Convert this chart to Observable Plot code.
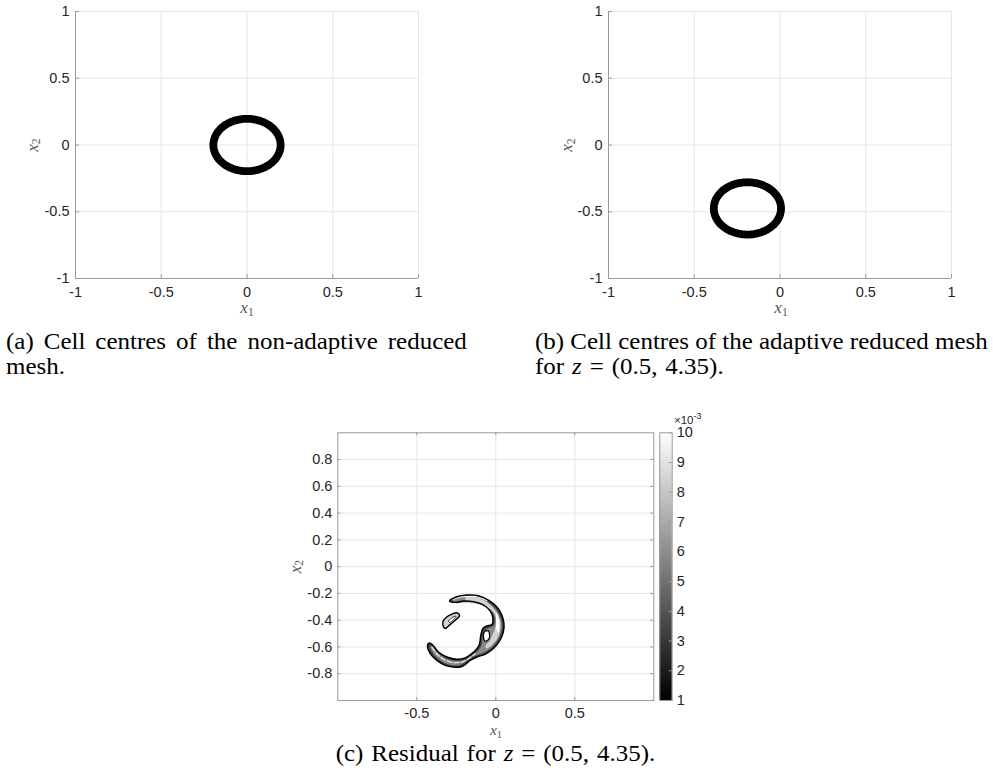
<!DOCTYPE html>
<html><head><meta charset="utf-8">
<script src="https://cdn.jsdelivr.net/npm/d3@7"></script>
<script src="https://cdn.jsdelivr.net/npm/@observablehq/plot@0.6"></script>
<style>
html,body{margin:0;padding:0;background:#fff;}
#root{position:relative;width:993px;height:776px;overflow:hidden;background:#fff;}
.panel{position:absolute;}
#overlay{position:absolute;left:0;top:0;pointer-events:none;}
</style></head><body><div id="root"></div>
<script>
// ---------------- data ----------------
const meshTicks = [-1, -0.5, 0, 0.5, 1];
const resTicksX = [-0.5, 0, 0.5];
const resTicksY = [-0.8, -0.6, -0.4, -0.2, 0, 0.2, 0.4, 0.6, 0.8];
const cbarTicks = [1, 2, 3, 4, 5, 6, 7, 8, 9, 10];

// rings of cell centres (panel a: non-adaptive, panel b: adaptive)
const ringCentreX = [0, -0.19];
const ringCentreY = [0, -0.475];
const ringRadius = [0.196, 0.196];

// residual contour outlines (x1, x2), panel c
const crescentEdge = [
  [-0.293,-0.257],[-0.247,-0.225],[-0.183,-0.212],[-0.110,-0.217],[-0.047,-0.250],[0.006,-0.300],
  [0.038,-0.362],[0.052,-0.425],[0.048,-0.487],[0.027,-0.550],[-0.015,-0.612],[-0.068,-0.655],
  [-0.120,-0.675],[-0.162,-0.700],[-0.194,-0.732],[-0.226,-0.750],[-0.268,-0.750],[-0.320,-0.737],
  [-0.373,-0.700],[-0.415,-0.650],[-0.432,-0.587],[-0.420,-0.570],
  [-0.398,-0.587],[-0.363,-0.637],[-0.310,-0.675],[-0.247,-0.692],[-0.194,-0.682],[-0.152,-0.650],
  [-0.120,-0.612],[-0.104,-0.582],[-0.095,-0.512],[-0.082,-0.462],[-0.057,-0.443],[-0.025,-0.432],
  [-0.020,-0.375],[-0.040,-0.325],[-0.085,-0.282],[-0.141,-0.262],[-0.205,-0.257],[-0.257,-0.267]
];
const crescentMid = [
  [-0.275,-0.250],[-0.225,-0.228],[-0.170,-0.222],[-0.110,-0.228],[-0.055,-0.260],[-0.005,-0.310],
  [0.025,-0.368],[0.038,-0.425],[0.034,-0.485],[0.015,-0.543],[-0.022,-0.598],[-0.072,-0.640],
  [-0.125,-0.662],[-0.168,-0.688],[-0.200,-0.718],[-0.235,-0.736],[-0.275,-0.737],[-0.320,-0.722],
  [-0.362,-0.690],[-0.398,-0.645],[-0.415,-0.595],
  [-0.398,-0.600],[-0.360,-0.650],[-0.310,-0.688],[-0.250,-0.705],[-0.190,-0.695],[-0.145,-0.660],
  [-0.108,-0.622],[-0.090,-0.585],[-0.082,-0.525],[-0.068,-0.478],[-0.045,-0.458],[-0.012,-0.442],
  [-0.008,-0.375],[-0.030,-0.330],[-0.078,-0.292],[-0.140,-0.272],[-0.205,-0.268],[-0.255,-0.272]
];
const crescentLight = [
  [-0.190,-0.226],[-0.120,-0.230],[-0.060,-0.262],[-0.012,-0.315],[0.018,-0.372],[0.030,-0.428],
  [0.026,-0.485],[0.008,-0.538],[-0.025,-0.585],[-0.060,-0.612],
  [-0.065,-0.590],[-0.040,-0.555],[-0.020,-0.505],[-0.002,-0.450],[0.000,-0.380],[-0.020,-0.335],
  [-0.065,-0.298],[-0.125,-0.276],[-0.185,-0.268]
];
const crescentCore = [[0.004,-0.345],[0.020,-0.390],[0.024,-0.440],[0.016,-0.495],[0.004,-0.470],[0.002,-0.410]];
const armStreak = [[-0.405,-0.600],[-0.370,-0.655],[-0.320,-0.700],[-0.260,-0.718],[-0.205,-0.708],[-0.170,-0.685],[-0.130,-0.650]];
const topStreak = [[-0.275,-0.245],[-0.220,-0.226],[-0.160,-0.222],[-0.100,-0.230],[-0.055,-0.255]];
const notchHole = [[-0.072,-0.487],[-0.047,-0.480],[-0.042,-0.537],[-0.068,-0.557],[-0.078,-0.525]];
const blobEdge = [[-0.331,-0.450],[-0.335,-0.413],[-0.314,-0.380],[-0.278,-0.355],[-0.243,-0.345],
  [-0.230,-0.368],[-0.257,-0.400],[-0.293,-0.437],[-0.320,-0.462]];
const blobInner = [[-0.300,-0.407],[-0.268,-0.375],[-0.251,-0.370],[-0.268,-0.395],[-0.293,-0.417]];

// residual levels (×10^-3) used for the shaded layers
const layerLevels = {base: 3.4, mid: 5.8, light: 8.4, core: 10, streak: 9.6, blob: 8.5, blobInner: 10};

// ---------------- styling ----------------
const AXIS = "#9a9a9a", GRID = "#e6e6e6", TXT = "#262626";
const sans = "'Liberation Sans', Arial, Helvetica, sans-serif";
const FS = 14.5;
const baseStyle = {fontSize: "14.5px", fontFamily: sans, color: TXT, background: "transparent", overflow: "visible"};
const fmt = d => String(d);
const root = document.getElementById("root");
function place(svg, left, top) {
  const div = document.createElement("div");
  div.className = "panel"; div.style.left = left + "px"; div.style.top = top + "px";
  div.appendChild(svg); root.appendChild(div);
}
const greyScale = Plot.scale({color: {type: "linear", domain: [1, 10], range: ["#000000", "#ffffff"]}});

// ---------------- panels a & b ----------------
function meshPanel(i) {
  const W = 440, H = 300, mL = 75, mR = 22, mT = 11, mB = 22;
  const pw = W - mL - mR, ph = H - mT - mB;
  const ring = d3.range(0, 360, 3).map(a => ({
    x: ringCentreX[i] + ringRadius[i] * Math.cos(a * Math.PI / 180),
    y: ringCentreY[i] + ringRadius[i] * Math.sin(a * Math.PI / 180)
  }));
  return Plot.plot({
    width: W, height: H, marginLeft: mL, marginRight: mR, marginTop: mT, marginBottom: mB,
    style: baseStyle,
    x: {domain: [-1, 1]}, y: {domain: [-1, 1]},
    marks: [
      Plot.gridX(meshTicks, {stroke: GRID, strokeOpacity: 1}),
      Plot.gridY(meshTicks, {stroke: GRID, strokeOpacity: 1}),
      Plot.line(ring, {x: "x", y: "y", stroke: "#000", strokeWidth: 7.8, curve: "catmull-rom-closed"}),
      Plot.ruleX([-1], {stroke: AXIS}),
      Plot.ruleY([-1], {stroke: AXIS}),
      Plot.tickX(meshTicks, {x: d => d, insetTop: ph - 4, stroke: AXIS}),
      Plot.tickY(meshTicks, {y: d => d, insetRight: pw - 4, stroke: AXIS}),
      Plot.axisX(meshTicks, {tickSize: 0, tickPadding: 8, tickFormat: fmt, label: null, fill: TXT, fontSize: FS}),
      Plot.axisY(meshTicks, {tickSize: 0, tickPadding: 6, tickFormat: fmt, label: null, fill: TXT, fontSize: FS})
    ]
  });
}
place(meshPanel(0), 0, 0);
place(meshPanel(1), 533.3, 0);

// ---------------- panel c ----------------
{
  const W = 400, H = 320, mL = 67.3, mR = 16.7, mT = 32.3, mB = 20;
  const pw = W - mL - mR, ph = H - mT - mB;
  const poly = (pts, fill) =>
    Plot.line(pts, {x: d => d[0], y: d => d[1], fill, stroke: "none", curve: "catmull-rom-closed"});
  const outline = (pts, w = 1.4) =>
    Plot.line(pts, {x: d => d[0], y: d => d[1], fill: "none", stroke: "#000", strokeWidth: w, curve: "catmull-rom-closed"});
  const svg = Plot.plot({
    width: W, height: H, marginLeft: mL, marginRight: mR, marginTop: mT, marginBottom: mB,
    style: baseStyle,
    x: {domain: [-1, 1]}, y: {domain: [-1, 1]},
    marks: [
      Plot.gridX(resTicksX, {stroke: GRID, strokeOpacity: 1}),
      Plot.gridY(resTicksY, {stroke: GRID, strokeOpacity: 1}),
      poly(crescentEdge, greyScale.apply(layerLevels.base)),
      poly(crescentMid, greyScale.apply(layerLevels.mid)),
      poly(crescentLight, greyScale.apply(layerLevels.light)),
      poly(crescentCore, greyScale.apply(layerLevels.core)),
      Plot.line(armStreak, {x: d => d[0], y: d => d[1], stroke: greyScale.apply(layerLevels.streak), strokeWidth: 1.1, curve: "catmull-rom", strokeDasharray: "5,2"}),
      Plot.line(topStreak, {x: d => d[0], y: d => d[1], stroke: greyScale.apply(layerLevels.streak), strokeWidth: 1.1, curve: "catmull-rom"}),
      poly(notchHole, "#ffffff"),
      poly(blobEdge, greyScale.apply(layerLevels.blob)),
      poly(blobInner, greyScale.apply(layerLevels.blobInner)),
      outline(crescentEdge),
      outline(notchHole, 1.2),
      outline(blobEdge, 1.4),
      outline(blobInner, 0.7),
      Plot.tickX(resTicksX, {x: d => d, insetTop: ph - 3, stroke: AXIS}),
      Plot.tickX(resTicksX, {x: d => d, insetBottom: ph - 3, stroke: AXIS}),
      Plot.tickY(resTicksY, {y: d => d, insetRight: pw - 3, stroke: AXIS}),
      Plot.tickY(resTicksY, {y: d => d, insetLeft: pw - 3, stroke: AXIS}),
      Plot.frame({stroke: AXIS}),
      Plot.axisX(resTicksX, {tickSize: 0, tickPadding: 7, tickFormat: fmt, label: null, fill: TXT, fontSize: FS}),
      Plot.axisY(resTicksY, {tickSize: 0, tickPadding: 5.5, tickFormat: fmt, label: null, fill: TXT, fontSize: FS})
    ]
  });
  place(svg, 270, 400);
}

// ---------------- colorbar ----------------
{
  const W = 80, H = 320, mL = 19.3, mR = 48.3, mT = 32.3, mB = 20;
  const pw = W - mL - mR;
  const step = 0.05;
  const cbSteps = d3.range(1, 10, step);
  const svg = Plot.plot({
    width: W, height: H, marginLeft: mL, marginRight: mR, marginTop: mT, marginBottom: mB,
    style: baseStyle,
    x: {domain: [0, 1], axis: null}, y: {domain: [1, 10], axis: null},
    color: {type: "linear", domain: [1, 10], range: ["#000000", "#ffffff"]},
    marks: [
      Plot.rect(cbSteps, {x1: 0, x2: 1, y1: d => d, y2: d => Math.min(10, d + step * 1.6), fill: d => d + step / 2}),
      Plot.tickY(cbarTicks, {y: d => d, insetLeft: pw - 3, stroke: AXIS}),
      Plot.frame({stroke: AXIS}),
      Plot.axisY(cbarTicks, {anchor: "right", tickSize: 0, tickPadding: 4.5, tickFormat: fmt, label: null, fill: TXT, fontSize: FS})
    ]
  });
  place(svg, 640, 400);
}

// ---------------- overlay text (labels, captions) ----------------
const ov = d3.select(root).append("svg").attr("id", "overlay").attr("width", 993).attr("height", 776);
const serif = "'Liberation Serif', 'Times New Roman', serif";
function mathLabel(x, y, sub, rotate, size = 17) {
  const t = ov.append("text")
    .attr("transform", rotate ? `translate(${x},${y}) rotate(-90)` : `translate(${x},${y})`)
    .attr("text-anchor", "middle").attr("font-family", serif).attr("font-size", size).attr("fill", "#555");
  t.append("tspan").attr("font-style", "italic").text("x");
  t.append("tspan").attr("font-size", size * 0.68).attr("dy", 2.6).text(sub);
}
mathLabel(247, 313, "1", false);
mathLabel(781, 313, "1", false);
mathLabel(496, 735, "1", false, 15.5);
mathLabel(37.5, 145, "2", true);
mathLabel(572, 145, "2", true);
mathLabel(300.5, 566.7, "2", true);

// colorbar exponent
{
  const t = ov.append("text").attr("x", 674).attr("y", 424).attr("font-family", sans).attr("font-size", 11.5).attr("fill", TXT);
  t.append("tspan").text("×10");
  t.append("tspan").attr("font-size", 9).attr("dy", -5).text("-3");
}

// captions: glyphs widened to the reference's wider book face, then word spaces stretched where justified
const CAP_FS = 22.5;
function makeCaption(parts) {
  const g = ov.append("g");
  const t = g.append("text").attr("font-family", serif).attr("font-size", CAP_FS).attr("fill", "#000");
  for (const p of parts) {
    const s = t.append("tspan").text(p.t);
    if (p.i) s.attr("font-style", "italic");
  }
  return {g, t, n: parts.map(p => p.t).join("").split(" ").length - 1, nat: t.node().getComputedTextLength()};
}
const capB1 = makeCaption([{t: "(b) Cell centres of the adaptive reduced mesh"}]);
const K = 453 / capB1.nat; // horizontal widening factor from a naturally spaced line
function finish(c, x, y, target, justify, anchor, extraSpace = 0) {
  let w = c.nat * K;
  if (justify && c.n > 0) {
    const ws = (target - w) / c.n / K;
    c.t.attr("word-spacing", ws);
    w = target;
  } else if (extraSpace) {
    c.t.attr("word-spacing", extraSpace);
    w += extraSpace * c.n * K;
  }
  const x0 = anchor === "middle" ? x - w / 2 : x;
  c.g.attr("transform", `translate(${x0},${y}) scale(${K},1)`);
}
finish(capB1, 535, 349, 453, false);
finish(makeCaption([{t: "(a) Cell centres of the non-adaptive reduced"}]), 6, 349, 461, true);
finish(makeCaption([{t: "mesh."}]), 6, 374, 0, false);
finish(makeCaption([{t: "for "}, {t: "z", i: true}, {t: " = (0.5, 4.35)."}]), 535, 374, 0, false, null, 1.5);
finish(makeCaption([{t: "(c) Residual for "}, {t: "z", i: true}, {t: " = (0.5, 4.35)."}]), 495.5, 761, 0, false, "middle", 1.5);
</script>
</body></html>
